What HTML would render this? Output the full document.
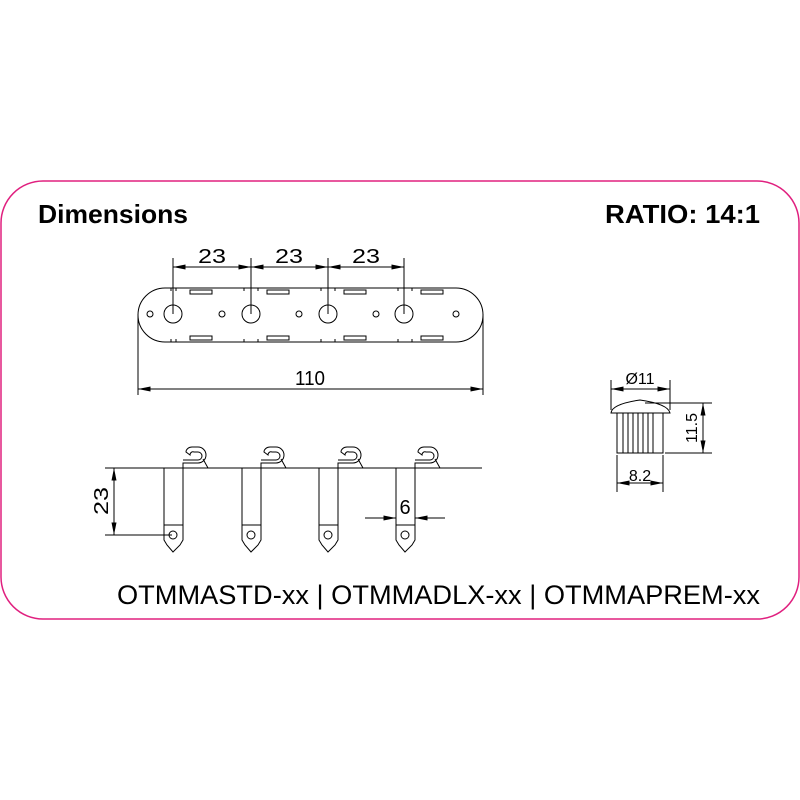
<!DOCTYPE html>
<html><head><style>body{margin:0;background:#fff}svg{display:block}</style></head>
<body>
<svg width="800" height="800" viewBox="0 0 800 800" xmlns="http://www.w3.org/2000/svg" font-family="Liberation Sans, sans-serif">
<defs>
<marker id="a" viewBox="0 0 10 4" refX="10" refY="2" markerWidth="14" markerHeight="5" orient="auto-start-reverse" markerUnits="userSpaceOnUse"><path d="M0,0L10,2L0,4z" fill="#000"/></marker>
</defs>
<rect x="1" y="181" width="798" height="438" rx="42" fill="none" stroke="#e0207f" stroke-width="1.5"/>
<text x="38" y="223" font-size="26" font-weight="bold" textLength="150" lengthAdjust="spacingAndGlyphs">Dimensions</text>
<text x="760" y="223" font-size="26" font-weight="bold" text-anchor="end" textLength="155" lengthAdjust="spacingAndGlyphs">RATIO: 14:1</text>
<text x="117" y="604" font-size="27" textLength="643" lengthAdjust="spacingAndGlyphs">OTMMASTD-xx | OTMMADLX-xx | OTMMAPREM-xx</text>
<g stroke="#000" stroke-width="1" fill="none">
<path d="M165,288 H456 A27,27 0 0 1 456,342 H165 A27,27 0 0 1 165,288 Z"/>
<rect x="190" y="290" width="22" height="4"/><rect x="267" y="290" width="22" height="4"/><rect x="344" y="290" width="22" height="4"/><rect x="421" y="290" width="22" height="4"/>
<rect x="190" y="336" width="22" height="4"/><rect x="267" y="336" width="22" height="4"/><rect x="344" y="336" width="22" height="4"/><rect x="421" y="336" width="22" height="4"/>
<path d="M171,288v3M176,288v3M244,288v3M258,288v3M321,288v3M335,288v3M398,288v3M412,288v3M171,342v-3M176,342v-3M244,342v-3M258,342v-3M321,342v-3M335,342v-3M398,342v-3M412,342v-3"/>
<circle cx="173" cy="314" r="9"/><circle cx="251" cy="314" r="9"/><circle cx="328" cy="314" r="9"/><circle cx="404" cy="314" r="9"/>
<circle cx="150" cy="314" r="3"/><circle cx="222" cy="314" r="3"/><circle cx="299" cy="314" r="3"/><circle cx="376" cy="314" r="3"/><circle cx="456" cy="314" r="3"/>
<path d="M173,258V314M251,258V314M328,258V314M404,258V314"/>
<path d="M173,267H251" marker-start="url(#a)" marker-end="url(#a)"/>
<path d="M251,267H328" marker-start="url(#a)" marker-end="url(#a)"/>
<path d="M328,267H404" marker-start="url(#a)" marker-end="url(#a)"/>
<path d="M138,314V395M483,314V395"/>
<path d="M138,389H483" marker-start="url(#a)" marker-end="url(#a)"/>
<path d="M138,468H482"/>
<g id="p">
<rect x="164" y="468" width="19" height="57"/>
<path d="M164,525 L164,540 L167,545 L173,552 L180,545 L183,540 L183,525"/>
<circle cx="173" cy="535" r="4"/>
<path d="M183,468 V463 H198 A8,8 0 0 0 198,447 H192 A6,5 0 0 0 186,452 L190,455 A3,3 0 0 1 194,452 H198 A4,4 0 0 1 198,460 H183 M203,459 L208,468"/>
</g>
<use href="#p" x="78"/><use href="#p" x="155"/><use href="#p" x="232"/>
<path d="M105,468H160M105,535H172"/>
<path d="M114,468V535" marker-start="url(#a)" marker-end="url(#a)"/>
<path d="M365,518H396" marker-end="url(#a)"/>
<path d="M445,518H415" marker-end="url(#a)"/>
<path d="M611,413 Q612,404 640,400 Q668,404 670,413 Z"/>
<rect x="617" y="413" width="46" height="40"/>
<path d="M623,413V453M628,413V453M633,413V453M638,413V453M643,413V453M648,413V453M653,413V453"/>
<path d="M611,380V410M670,380V410"/>
<path d="M611,389H670" marker-start="url(#a)" marker-end="url(#a)"/>
<path d="M645,403H712M665,453H712"/>
<path d="M703,403V453" marker-start="url(#a)" marker-end="url(#a)"/>
<path d="M617,455V492M663,455V492"/>
<path d="M617,483H663" marker-start="url(#a)" marker-end="url(#a)"/>
</g>
<g font-size="20" fill="#000" text-anchor="middle">
<text x="212" y="263" textLength="28" lengthAdjust="spacingAndGlyphs">23</text>
<text x="289" y="263" textLength="28" lengthAdjust="spacingAndGlyphs">23</text>
<text x="366" y="263" textLength="28" lengthAdjust="spacingAndGlyphs">23</text>
<text x="310" y="385" textLength="30" lengthAdjust="spacingAndGlyphs">110</text>
<text x="405" y="514">6</text>
<text transform="translate(108,501) rotate(-90)" textLength="28" lengthAdjust="spacingAndGlyphs">23</text>
<text x="640" y="384" font-size="16">Ø11</text>
<text x="640" y="481" font-size="16">8.2</text>
<text transform="translate(697,428) rotate(-90)" font-size="16">11.5</text>
</g>
</svg>
</body></html>
